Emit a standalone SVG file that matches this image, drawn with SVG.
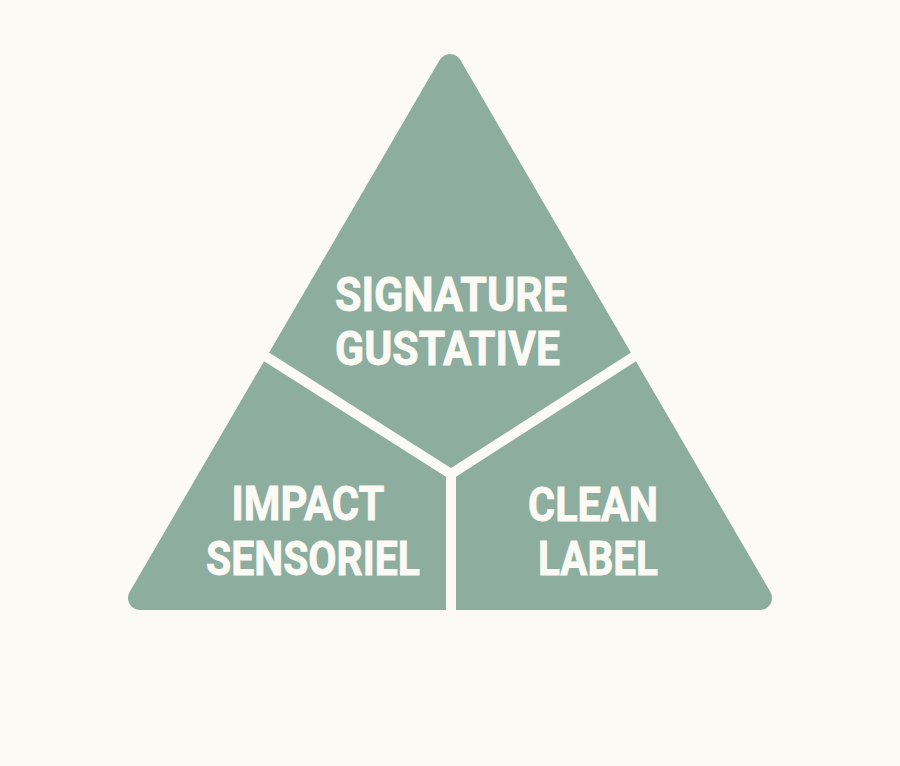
<svg xmlns="http://www.w3.org/2000/svg" width="900" height="766" viewBox="0 0 900 766">
  <style>
    .lbl { font-family: Roboto, "Liberation Sans", sans-serif; font-weight: 700; font-size: 49px; fill: #FBFAF5; stroke: #FBFAF5; stroke-width: 0.9; text-anchor: middle; }
    .div { stroke: #FCFAF4; stroke-width: 10; fill: none; stroke-linejoin: miter; }
  </style>
  <rect width="900" height="766" fill="#FCFAF4"/>
  <g id="triangle">
    <polygon points="450,66 140,598 760,598" fill="#8DAD9F" stroke="#8DAD9F" stroke-width="24" stroke-linejoin="round"/>
  </g>
  <g id="connectors">
    <polyline class="div" points="262,354 451,474 638,354"/>
    <line class="div" x1="451" y1="474" x2="451" y2="616"/>
  </g>
  <g id="node-signature">
    <text class="lbl" x="451" y="311" textLength="232" lengthAdjust="spacingAndGlyphs">SIGNATURE</text>
    <text class="lbl" x="447.5" y="365" textLength="225" lengthAdjust="spacingAndGlyphs">GUSTATIVE</text>
  </g>
  <g id="node-impact">
    <text class="lbl" x="308" y="520" textLength="153" lengthAdjust="spacingAndGlyphs">IMPACT</text>
    <text class="lbl" x="313" y="575" textLength="214" lengthAdjust="spacingAndGlyphs">SENSORIEL</text>
  </g>
  <g id="node-clean">
    <text class="lbl" x="593" y="521" textLength="130" lengthAdjust="spacingAndGlyphs">CLEAN</text>
    <text class="lbl" x="598" y="575" textLength="120" lengthAdjust="spacingAndGlyphs">LABEL</text>
  </g>
</svg>
